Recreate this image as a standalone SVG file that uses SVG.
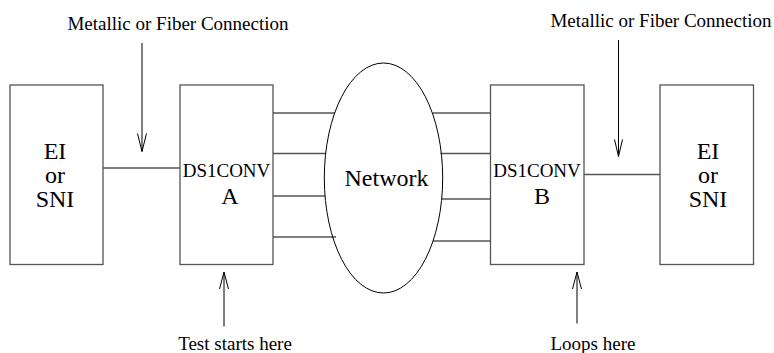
<svg xmlns="http://www.w3.org/2000/svg" width="774" height="353" viewBox="0 0 774 353">
<style>
text{font-family:"Liberation Serif",serif;fill:#000}
.box{fill:#fff;stroke:#555;stroke-width:1.3}
.ln{stroke:#555;stroke-width:1.3;fill:none}
.arr{stroke:#000;stroke-width:1;fill:none}
.sm{font-size:19px}
.lg{font-size:24px}
</style>
<rect width="774" height="353" fill="#fff"/>
<g id="connectors">
<line class="ln" x1="103" y1="168" x2="180" y2="168"/>
<line class="ln" x1="584" y1="174.5" x2="660" y2="174.5"/>
<line class="ln" x1="273" y1="113" x2="335" y2="113"/>
<line class="ln" x1="273" y1="153.5" x2="325.5" y2="153.5"/>
<line class="ln" x1="273" y1="196" x2="325" y2="196"/>
<line class="ln" x1="273" y1="237" x2="336" y2="237"/>
<line class="ln" x1="433" y1="113" x2="490.5" y2="113"/>
<line class="ln" x1="440.5" y1="153.5" x2="490.5" y2="153.5"/>
<line class="ln" x1="442" y1="199" x2="490.5" y2="199"/>
<line class="ln" x1="433" y1="241" x2="490.5" y2="241"/>
<path class="arr" d="M142 43V151.5M137.5 133.5L142 151.5L146.5 133.5"/>
<path class="arr" d="M618.5 40V156.5M614.5 139.5L618.5 156.5L622.5 139.5"/>
<path class="arr" d="M224 326.5V272M219.5 289L224 272L228.5 289"/>
<path class="arr" d="M577 323.5V272M572.5 289L577 272L581.5 289"/>
</g>
<g id="ei-left">
<rect class="box" x="10" y="85" width="93" height="179.5"/>
<text class="lg" x="55" y="159" text-anchor="middle" font-family="Liberation Serif">EI</text>
<text class="lg" x="55" y="183" text-anchor="middle" font-family="Liberation Serif">or</text>
<text class="lg" x="55" y="207" text-anchor="middle" font-family="Liberation Serif">SNI</text>
</g>
<g id="ds1conv-a">
<rect class="box" x="180" y="85" width="93" height="179.5"/>
<text class="sm" x="226.5" y="176.5" text-anchor="middle">DS1CONV</text>
<text class="lg" x="230" y="204" text-anchor="middle">A</text>
</g>
<g id="network">
<ellipse cx="383.5" cy="178" rx="59.2" ry="115" fill="none" stroke="#000" stroke-width="1"/>
<text class="lg" x="386.5" y="186" text-anchor="middle">Network</text>
</g>
<g id="ds1conv-b">
<rect class="box" x="490.5" y="85" width="93.5" height="179.5"/>
<text class="sm" x="537" y="176.5" text-anchor="middle">DS1CONV</text>
<text class="lg" x="542" y="204" text-anchor="middle">B</text>
</g>
<g id="ei-right">
<rect class="box" x="660" y="85" width="93.5" height="179.5"/>
<text class="lg" x="708" y="159" text-anchor="middle">EI</text>
<text class="lg" x="708" y="183" text-anchor="middle">or</text>
<text class="lg" x="708" y="207" text-anchor="middle">SNI</text>
</g>
<g id="labels">
<text class="sm" x="178" y="29.5" text-anchor="middle">Metallic or Fiber Connection</text>
<text class="sm" x="661" y="27" text-anchor="middle">Metallic or Fiber Connection</text>
<text class="sm" x="235" y="350" text-anchor="middle">Test starts here</text>
<text class="sm" x="593" y="350" text-anchor="middle">Loops here</text>
</g>
</svg>
